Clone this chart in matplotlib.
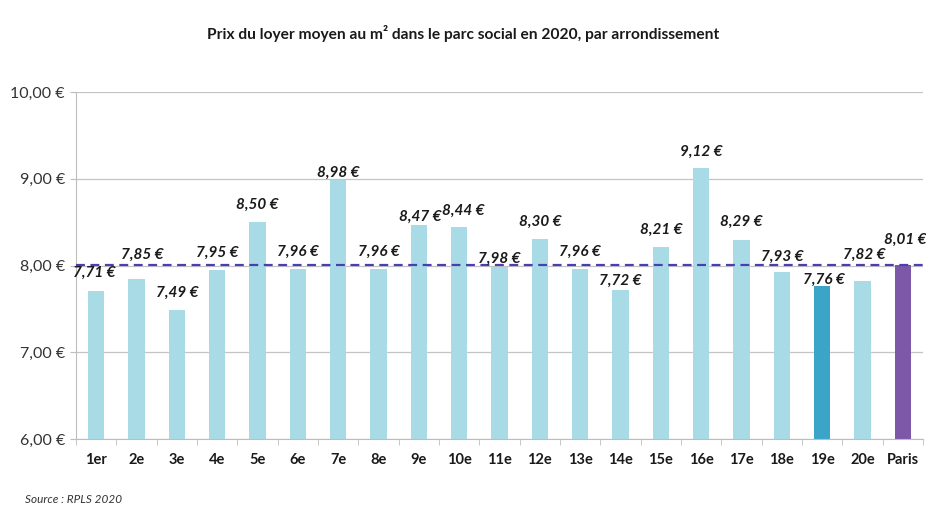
import matplotlib
matplotlib.use("Agg")
import matplotlib.pyplot as plt
import numpy as np

categories = ["1er", "2e", "3e", "4e", "5e", "6e", "7e", "8e", "9e", "10e", "11e",
              "12e", "13e", "14e", "15e", "16e", "17e", "18e", "19e", "20e", "Paris"]
values = [7.71, 7.85, 7.49, 7.95, 8.50, 7.96, 8.98, 7.96, 8.47, 8.44, 7.98,
          8.30, 7.96, 7.72, 8.21, 9.12, 8.29, 7.93, 7.76, 7.82, 8.01]
paris_avg = 8.01
y_ticks = [6, 7, 8, 9, 10]

# label offsets (points) to mimic the original placement
label_dx = [-1, 4, 0, 0, 0, 0, 0, 0, 1, 3, 0, 0, 0, 0, 0, 0, 0, 0, 1, 1, 2]
label_dy = [7.5, 12, 7, 7.5, 7.5, 7.5, 0.8, 7.5, 0.8, 6.6, 0.8, 7.8, 7.5, 1.2, 7.2, 7, 8.4, 5.8, 0, 14, 13]

plt.rcParams['font.family'] = ['Lato', 'DejaVu Sans']

fig = plt.figure(figsize=(9.26, 5.13), dpi=100)
ax = fig.add_axes([0.082, 0.1442, 0.9148, 0.6765])

light = "#a9dbe7"
colors = [light] * len(categories)
colors[categories.index("19e")] = "#3aa5c8"
colors[categories.index("Paris")] = "#7d58a8"

x = np.arange(len(categories))
ax.bar(x, values, width=0.4, color=colors, zorder=2)

ax.axhline(paris_avg, color="#4a3fb0", linestyle=(0, (4, 2.5)), linewidth=1.6, zorder=3)

for xi, v, dx, dy in zip(x, values, label_dx, label_dy):
    ax.annotate(f"{v:.2f} €".replace(".", ","), (xi, v), xytext=(dx, dy),
                textcoords="offset points", ha="center", va="bottom",
                fontsize=11, fontweight="bold", fontstyle="italic", color="#1a1a1a", zorder=4)

ax.set_ylim(6, 10)
ax.set_xlim(-0.5, len(categories) - 0.5)
ax.set_yticks(y_ticks)
ax.set_yticklabels([f"{t:.2f} €".replace(".", ",") for t in y_ticks], fontsize=11.5, color="#333333")
ax.yaxis.grid(True, color="#c4c4c4", linewidth=0.9, zorder=0)
ax.set_axisbelow(True)

ax.set_xticks(x)
ax.set_xticklabels(categories, fontsize=10.5, fontweight="bold", color="#1a1a1a")
ax.tick_params(axis="x", length=0, pad=10)
ax.set_xticks(np.arange(-0.5, len(categories), 1), minor=True)
ax.tick_params(axis="x", which="minor", length=4, color="#bdbdbd")
ax.tick_params(axis="y", length=4, color="#bdbdbd", pad=4)

for s in ["top", "right"]:
    ax.spines[s].set_visible(False)
ax.spines["left"].set_color("#bdbdbd")
ax.spines["bottom"].set_color("#bdbdbd")

fig.text(0.5, 0.935, "Prix du loyer moyen au m² dans le parc social en 2020, par arrondissement",
         ha="center", va="center", fontsize=11.2, fontweight="bold", color="#1a1a1a")
fig.text(0.027, 0.015, "Source : RPLS 2020", ha="left", va="bottom",
         fontsize=8.5, fontstyle="italic", color="#333333")

fig.savefig("out.png", dpi=100)
